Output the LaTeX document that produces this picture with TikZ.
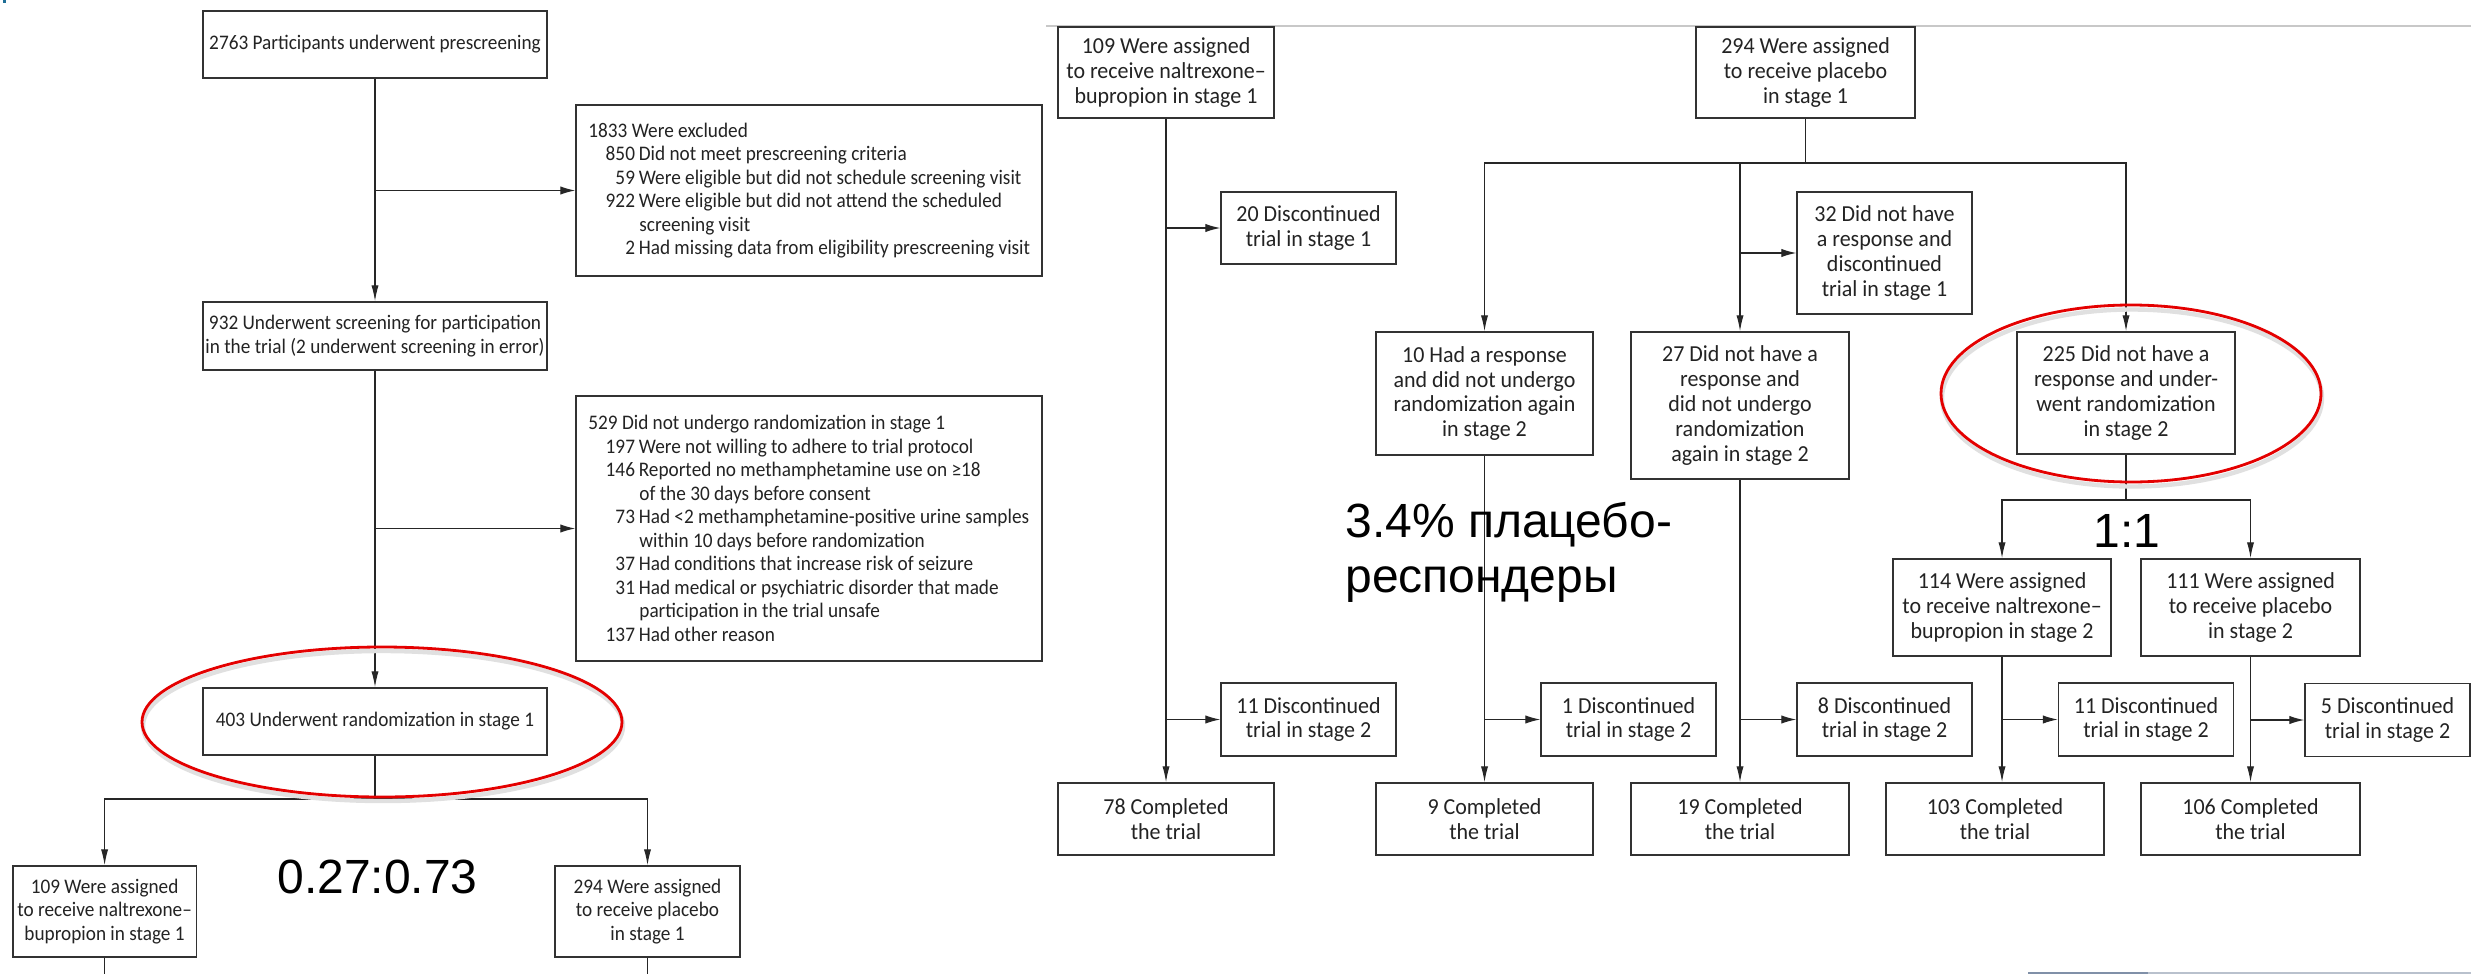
\documentclass[tikz,border=0pt]{standalone}
\usepackage{fontspec}
\setmainfont{Carlito}
\newfontfamily\lfont{Carlito}[FakeStretch=0.93]
\newfontfamily\rfont{Carlito}[FakeStretch=0.96]
\newfontfamily\arialf{Liberation Sans}
\usetikzlibrary{arrows.meta}
\definecolor{redc}{RGB}{228,0,0}
\definecolor{boxc}{RGB}{50,50,50}
\definecolor{txtc}{RGB}{35,35,35}
\definecolor{topline}{RGB}{200,200,200}
\definecolor{botdark}{RGB}{128,144,168}
\definecolor{botlight}{RGB}{185,193,205}
\definecolor{markc}{RGB}{30,110,150}
\newcommand\ditem[2]{\makebox[23.3pt][r]{#1}\hspace{1.9pt}#2}
\newcommand\dcont[1]{\hspace*{25.5pt}#1}
\tikzset{
  sz/.style 2 args={minimum width=#1, minimum height=#2},
  lbox/.style={draw=boxc, line width=0.75pt, inner sep=1pt, align=center, text=txtc,
    font=\lfont\fontsize{10.35}{11.75}\selectfont},
  ltext/.style={inner sep=0pt, align=left, text=txtc, font=\lfont\fontsize{10.35}{11.75}\selectfont},
  rbox/.style={draw=boxc, line width=0.75pt, inner sep=1pt, align=center, text=txtc,
    font=\rfont\fontsize{11.45}{12.4}\selectfont},
  conn/.style={draw=black!85, line width=0.6pt},
  down/.style={conn, -{Latex[length=8pt,width=3.6pt]}},
  side/.style={conn, -{Latex[length=7.5pt,width=4.2pt]}},
  big/.style={inner sep=0pt, font=\arialf\fontsize{24}{27.5}\selectfont},
  ring/.style={draw=redc, line width=1.4pt},
  ringshadow/.style={draw=black!12, line width=2.2pt},
}
\begin{document}
\begin{tikzpicture}[x=0.5pt,y=-0.5pt]
\useasboundingbox (0,0) rectangle (2471,974);
\fill[white] (0,0) rectangle (2471,974);
\fill[markc] (3,0) rectangle (6,3);

% ---------------- left panel ----------------
\node[lbox, sz={172pt}{33.5pt}] (A) at (375,44.5) {2763 Participants underwent prescreening};
\node[lbox, sz={233pt}{85.5pt}] (B) at (809,190.5) {};
\node[ltext, anchor=west] (Bt) at (588,190.5) {1833 Were excluded\\
\ditem{850}{Did not meet prescreening criteria}\\
\ditem{59}{Were eligible but did not schedule screening visit}\\
\ditem{922}{Were eligible but did not attend the scheduled}\\
\dcont{screening visit}\\
\ditem{2}{Had missing data from eligibility prescreening visit}};
\node[lbox, sz={172pt}{34pt}] (C) at (375,336) {932 Underwent screening for participation\\in the trial (2 underwent screening in error)};
\node[lbox, sz={233pt}{132.5pt}] (D) at (809,528.5) {};
\node[ltext, anchor=west] (Dt) at (588,528.5) {529 Did not undergo randomization in stage 1\\
\ditem{197}{Were not willing to adhere to trial protocol}\\
\ditem{146}{Reported no methamphetamine use on ≥18}\\
\dcont{of the 30 days before consent}\\
\ditem{73}{Had <2 methamphetamine-positive urine samples}\\
\dcont{within 10 days before randomization}\\
\ditem{37}{Had conditions that increase risk of seizure}\\
\ditem{31}{Had medical or psychiatric disorder that made}\\
\dcont{participation in the trial unsafe}\\
\ditem{137}{Had other reason}};
\node[lbox, sz={172pt}{33.5pt}] (E) at (375,721.5) {403 Underwent randomization in stage 1};
\node[lbox, sz={91.8pt}{45.5pt}] (L1) at (104.6,911.5) {109 Were assigned\\to receive naltrexone–\\bupropion in stage 1};
\node[lbox, sz={92.5pt}{45.5pt}] (L2) at (647.5,911.5) {294 Were assigned\\to receive placebo\\in stage 1};

\draw[down] (A.south) -- (C.north);
\draw[side] (A.south |- B.west) -- (B.west);
\draw[down] (C.south) -- (E.north);
\draw[side] (C.south |- D.west) -- (D.west);
\coordinate (s1) at (375,799);
\coordinate (bot) at (0,974);
\draw[conn] (E.south) -- (s1);
\draw[down] (s1) -| (L1.north);
\draw[down] (s1) -| (L2.north);
\draw[conn] (L1.south) -- (L1.south |- bot);
\draw[conn] (L2.south) -- (L2.south |- bot);

\draw[ringshadow] (383,726) ellipse [x radius=120pt, y radius=37.5pt];
\draw[ring] (382,722) ellipse [x radius=120pt, y radius=37.5pt];

\node[big, anchor=base west] (ratio1) at (277,893) {0.27:0.73};

% ---------------- right panel ----------------
\draw[topline, line width=1pt] (1046,26) -- (2471,26);

\node[rbox, sz={108pt}{45.5pt}] (R1) at (1166,72.5) {109 Were assigned\\to receive naltrexone–\\bupropion in stage 1};
\node[rbox, sz={109.5pt}{45.5pt}] (R2) at (1805.5,72.5) {294 Were assigned\\to receive placebo\\in stage 1};
\node[rbox, sz={87.5pt}{36pt}] (D20) at (1308.5,228) {20 Discontinued\\trial in stage 1};
\node[rbox, sz={87.5pt}{61pt}] (D32) at (1884.5,253) {32 Did not have\\a response and\\discontinued\\trial in stage 1};
\node[rbox, sz={108.5pt}{61.5pt}] (R10) at (1484.5,393.5) {10 Had a response\\and did not undergo\\randomization again\\in stage 2};
\node[rbox, sz={109pt}{73.5pt}] (R27) at (1740,405.5) {27 Did not have a\\response and\\did not undergo\\randomization\\again in stage 2};
\node[rbox, sz={109pt}{61pt}] (R225) at (2126,393) {225 Did not have a\\response and under-\\went randomization\\in stage 2};
\node[rbox, sz={109pt}{48.5pt}] (R114) at (2002,607.5) {114 Were assigned\\to receive naltrexone–\\bupropion in stage 2};
\node[rbox, sz={109.5pt}{48.5pt}] (R111) at (2250.5,607.5) {111 Were assigned\\to receive placebo\\in stage 2};
\node[rbox, sz={87.5pt}{36.5pt}] (Da) at (1308.5,719.5) {11 Discontinued\\trial in stage 2};
\node[rbox, sz={87.5pt}{36.5pt}] (Db) at (1628.5,719.5) {1 Discontinued\\trial in stage 2};
\node[rbox, sz={87.5pt}{36.5pt}] (Dc) at (1884.5,719.5) {8 Discontinued\\trial in stage 2};
\node[rbox, sz={87.5pt}{36.5pt}] (Dd) at (2146,719.5) {11 Discontinued\\trial in stage 2};
\node[rbox, sz={82.5pt}{36.5pt}] (De) at (2387.5,720) {5 Discontinued\\trial in stage 2};
\node[rbox, sz={108pt}{36pt}] (C78) at (1166,819) {78 Completed\\the trial};
\node[rbox, sz={108.5pt}{36pt}] (C9) at (1484.5,819) {9 Completed\\the trial};
\node[rbox, sz={109pt}{36pt}] (C19) at (1740,819) {19 Completed\\the trial};
\node[rbox, sz={109pt}{36pt}] (C103) at (1995,819) {103 Completed\\the trial};
\node[rbox, sz={109.5pt}{36pt}] (C106) at (2250.5,819) {106 Completed\\the trial};

\draw[down] (R1.south) -- (C78.north);
\draw[side] (R1.south |- D20.west) -- (D20.west);
\draw[side] (R1.south |- Da.west) -- (Da.west);
\coordinate (s2) at (1805.5,163);
\draw[conn] (R2.south) -- (s2);
\draw[down] (s2) -| (R10.north);
\draw[down] (s2) -| (R225.north);
\draw[down] (R27.north |- s2) -- (R27.north);
\draw[side] (R27.north |- D32.west) -- (D32.west);
\draw[down] (R10.south) -- (C9.north);
\draw[side] (R10.south |- Db.west) -- (Db.west);
\draw[down] (R27.south) -- (C19.north);
\draw[side] (R27.south |- Dc.west) -- (Dc.west);
\coordinate (s3) at (2126,500);
\draw[conn] (R225.south) -- (s3);
\draw[down] (s3) -| (R114.north);
\draw[down] (s3) -| (R111.north);
\draw[down] (R114.south) -- (R114.south |- C103.north);
\draw[side] (R114.south |- Dd.west) -- (Dd.west);
\draw[down] (R111.south) -- (C106.north);
\draw[side] (R111.south |- De.west) -- (De.west);

\draw[ringshadow] (2132,398) ellipse [x radius=95pt, y radius=44.25pt];
\draw[ring] (2131,393.5) ellipse [x radius=95pt, y radius=44.25pt];

\node[big, anchor=base west] (ru1) at (1345,537) {3.4\% плацебо-};
\node[big, anchor=base west] (ru2) at (1345,592) {респондеры};
\node[big, anchor=base west] (ratio2) at (2093,547) {1:1};

\draw[botdark, line width=1pt] (2028,973) -- (2148,973);
\draw[botlight, line width=1pt] (2148,973) -- (2471,973);
\end{tikzpicture}
\end{document}
